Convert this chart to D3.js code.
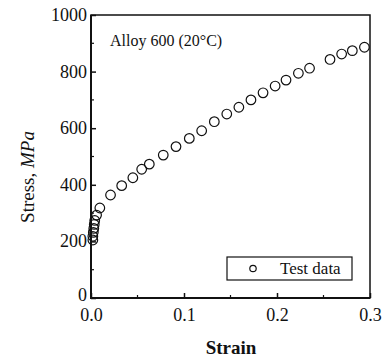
<!DOCTYPE html>
<html>
<head>
<meta charset="utf-8">
<script src="https://cdn.jsdelivr.net/npm/d3@7"></script>
<style>
  html, body { margin: 0; padding: 0; background: #fff; }
  svg text { font-family: "Liberation Serif", "Times New Roman", serif; fill: #111; }
</style>
</head>
<body>
<svg id="chart" width="386" height="360"></svg>
<script>
// strain / stress (MPa)
const strain = [0.002, 0.002, 0.0025, 0.003, 0.0035, 0.004, 0.006, 0.0095,
  0.021, 0.033, 0.045, 0.0545, 0.0627, 0.0777, 0.0914, 0.1057, 0.119,
  0.1326, 0.146, 0.159, 0.172, 0.185, 0.198, 0.2097, 0.223, 0.235,
  0.257, 0.2695, 0.281, 0.294];
const stress = [205, 218, 232, 246, 260, 274, 293, 318,
  364, 397, 425, 455, 473, 505, 535, 564, 591,
  623, 650, 674, 700, 725, 749, 770, 794, 812,
  843, 862, 874, 886];

const xTicks = [0, 0.1, 0.2, 0.3];
const xMinor = [0.05, 0.15, 0.25];
const yTicks = [0, 200, 400, 600, 800, 1000];
const yMinor = [100, 300, 500, 700, 900];

const svg = d3.select('#chart');
const plot = { left: 91, right: 370, top: 15, bottom: 298 };

const x = d3.scaleLinear().domain([0, 0.3]).range([plot.left, plot.right]);
const y = d3.scaleLinear().domain([0, 1000]).range([plot.bottom, plot.top]);

// frame: top/right thinner than the axes
svg.append('rect')
  .attr('x', plot.left).attr('y', plot.top)
  .attr('width', plot.right - plot.left).attr('height', plot.bottom - plot.top)
  .attr('fill', 'none').attr('stroke', '#111').attr('stroke-width', 1.5);

// inward ticks, no domain line from the axis (frame draws it)
const xAxis = d3.axisBottom(x).tickValues(xTicks).tickSize(-5).tickPadding(8)
  .tickFormat(d3.format('.1f'));
const gx = svg.append('g').attr('transform', `translate(0,${plot.bottom})`).call(xAxis);
gx.select('.domain').remove();
gx.selectAll('.tick line').attr('stroke', '#111').attr('stroke-width', 1.5);
gx.selectAll('.tick text').attr('font-size', 18).attr('dy', '0.85em').style('font-family', '"Liberation Serif", serif');
gx.selectAll('.minor').data(xMinor).join('line')
  .attr('x1', d => x(d)).attr('x2', d => x(d)).attr('y1', 0).attr('y2', -3)
  .attr('stroke', '#111').attr('stroke-width', 1.2);

const yAxis = d3.axisLeft(y).tickValues(yTicks).tickSize(-5).tickPadding(4)
  .tickFormat(d3.format('d'));
const gy = svg.append('g').attr('transform', `translate(${plot.left},0)`).call(yAxis);
gy.select('.domain').remove();
gy.selectAll('.tick line').attr('stroke', '#111').attr('stroke-width', 1.5);
gy.selectAll('.tick text').attr('font-size', 18)
  .attr('dy', d => d === 0 ? '0.12em' : '0.3em')   // lift the corner "0" off the x labels
  .style('font-family', '"Liberation Serif", serif');
gy.selectAll('.minor').data(yMinor).join('line')
  .attr('y1', d => y(d)).attr('y2', d => y(d)).attr('x1', 0).attr('x2', 3)
  .attr('stroke', '#111').attr('stroke-width', 1.2);

// heavier left and bottom axis lines
svg.append('line').attr('x1', plot.left).attr('x2', plot.left)
  .attr('y1', plot.top).attr('y2', plot.bottom + 1)
  .attr('stroke', '#111').attr('stroke-width', 2);
svg.append('line').attr('x1', plot.left - 1).attr('x2', plot.right)
  .attr('y1', plot.bottom).attr('y2', plot.bottom)
  .attr('stroke', '#111').attr('stroke-width', 2);

// data markers
svg.append('g').selectAll('circle')
  .data(strain.map((s, i) => [s, stress[i]]))
  .join('circle')
  .attr('cx', d => x(d[0]))
  .attr('cy', d => y(d[1]))
  .attr('r', 4.8)
  .attr('fill', 'none')
  .attr('stroke', '#111')
  .attr('stroke-width', 1.2);

// annotation
svg.append('text').attr('x', 110).attr('y', 46).attr('font-size', 16)
  .text('Alloy 600 (20°C)');

// legend
const leg = svg.append('g');
leg.append('rect').attr('x', 227).attr('y', 257).attr('width', 125).attr('height', 23)
  .attr('fill', '#fff').attr('stroke', '#111').attr('stroke-width', 1.2);
leg.append('circle').attr('cx', 253).attr('cy', 268.5).attr('r', 3.2)
  .attr('fill', 'none').attr('stroke', '#111').attr('stroke-width', 1.2);
leg.append('text').attr('x', 280).attr('y', 274).attr('font-size', 17).text('Test data');

// axis titles
svg.append('text').attr('x', 231).attr('y', 354).attr('text-anchor', 'middle')
  .attr('font-size', 19).attr('font-weight', 'bold').text('Strain');

const yt = svg.append('text')
  .attr('transform', 'translate(34,177) rotate(-90)')
  .attr('text-anchor', 'middle').attr('font-size', 19);
yt.append('tspan').text('Stress, ');
yt.append('tspan').attr('font-style', 'italic').text('MPa');
</script>
</body>
</html>
